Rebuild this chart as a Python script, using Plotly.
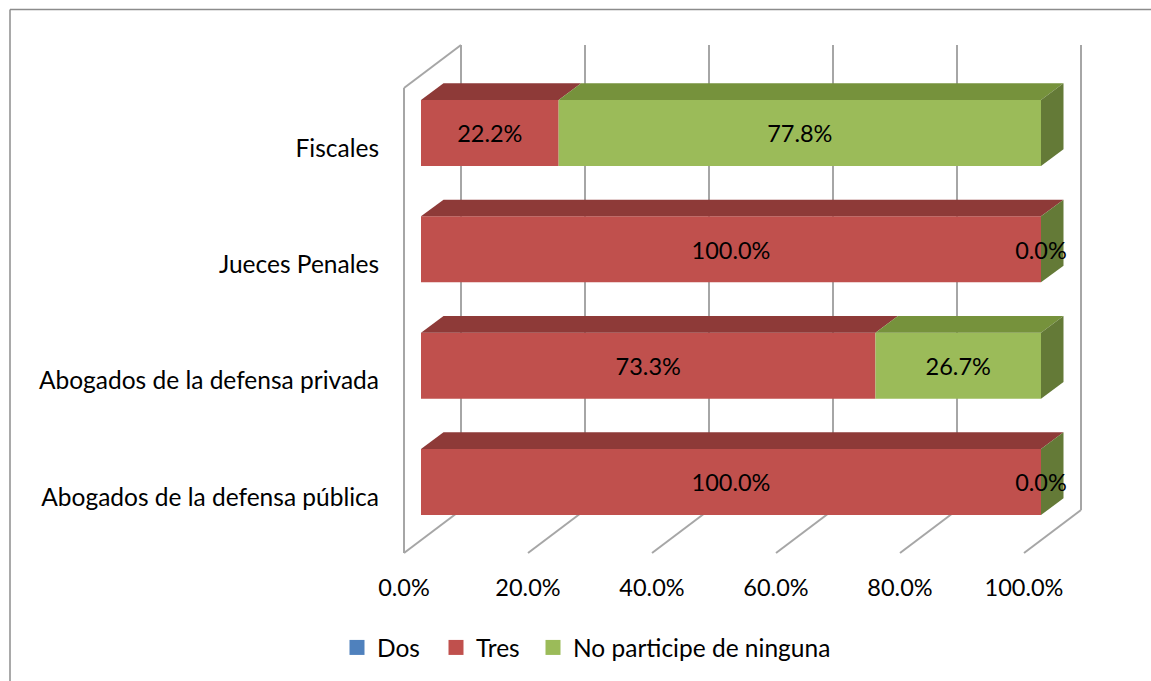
import plotly.graph_objects as go

categories = ['Abogados de la defensa pública', 'Abogados de la defensa privada', 'Jueces Penales', 'Fiscales']
series_names = ['Dos', 'Tres', 'No participe de ninguna']
dos = [0, 0, 0, 0]
tres = [100.0, 73.3, 100.0, 22.2]
ninguna = [0.0, 26.7, 0.0, 77.8]
x_ticks = [0, 20, 40, 60, 80, 100]
x_labels = ['0.0%', '20.0%', '40.0%', '60.0%', '80.0%', '100.0%']

W, H = 1151, 681
PX_X = 6.2  # pixels per percent
PX_Y = 116.33  # pixels per category row
FONT = 'Lato'
FONT_SIZE = 23.5
CAT_FONT_SIZE = 24.5

# oblique depth of the walls and of the bars, in axis units
wall_dx = 57 / PX_X
wall_dy = 43 / PX_Y
floor = -56 / PX_Y
ceiling = floor + 465 / PX_Y
bar_start = 17 / PX_X
bar_dx = 22.5 / PX_X
bar_dy = 16.7 / PX_Y
bar_lift = 15 / PX_Y
label_lift = 11.5 / PX_Y
bar_height = 66 / PX_Y

front = {'Dos': '#4F81BD', 'Tres': '#C0504D', 'No participe de ninguna': '#9BBB59'}
top = {'Dos': '#3B618F', 'Tres': '#8E3A38', 'No participe de ninguna': '#76923C'}
side_color = '#647A37'
wall_color = '#A6A6A6'
border_color = '#8C8C8C'

fig = go.Figure()
rows = list(range(len(categories)))
values = {'Dos': dos, 'Tres': tres, 'No participe de ninguna': ninguna}


def face(xs, ys, color):
    fig.add_trace(go.Scatter(x=xs + xs[:1], y=ys + ys[:1], mode='lines', fill='toself', fillcolor=color,
                             line=dict(width=0, color=color), hoverinfo='skip', showlegend=False))


starts = [0] * len(rows)
for name in series_names:
    vals = values[name]
    fig.add_trace(go.Bar(y=[r + bar_lift for r in rows], x=vals, base=[s + bar_start for s in starts],
                         orientation='h', width=bar_height, marker=dict(color=front[name], line_width=0),
                         hoverinfo='skip', showlegend=False))
    for r, v, s in zip(rows, vals, starts):
        if v == 0:
            continue
        x0 = s + bar_start
        y1 = r + bar_lift + bar_height / 2
        face([x0, x0 + v, x0 + v + bar_dx, x0 + bar_dx], [y1, y1, y1 + bar_dy, y1 + bar_dy], top[name])
    starts = [s + v for s, v in zip(starts, vals)]

# end cap of the stack
for r, s in zip(rows, starts):
    x0 = s + bar_start
    y0 = r + bar_lift - bar_height / 2
    y1 = r + bar_lift + bar_height / 2
    face([x0, x0 + bar_dx, x0 + bar_dx, x0], [y0, y0 + bar_dy, y1 + bar_dy, y1], side_color)

# data labels
starts = [0] * len(rows)
for name in series_names[1:]:
    vals = values[name]
    fig.add_trace(go.Scatter(x=[s + v / 2 + bar_start for s, v in zip(starts, vals)],
                             y=[r + label_lift for r in rows],
                             mode='text', text=['%.1f%%' % v for v in vals], textposition='middle center',
                             textfont=dict(family=FONT, size=FONT_SIZE, color='#000000'),
                             hoverinfo='skip', showlegend=False))
    starts = [s + v for s, v in zip(starts, vals)]

# legend keys, one legend each so the spacing can follow the picture
legend_ids = ['legend', 'legend2', 'legend3']
legend_left = [337, 436, 533]
for name, legend_id in zip(series_names, legend_ids):
    fig.add_trace(go.Scatter(x=[None], y=[None], mode='markers', name=name, legend=legend_id,
                             marker=dict(symbol='square', size=15, color=front[name])))

shapes = []


def wall_line(x0, y0, x1, y1):
    shapes.append(dict(type='line', x0=x0, y0=y0, x1=x1, y1=y1, layer='below',
                       line=dict(color=wall_color, width=2)))


for t in x_ticks:
    wall_line(t, floor, t + wall_dx, floor + wall_dy)
    wall_line(t + wall_dx, floor + wall_dy, t + wall_dx, ceiling + wall_dy)
wall_line(0, floor, 0, ceiling)
wall_line(0, ceiling, wall_dx, ceiling + wall_dy)

# chart frame, only the left and top edges are in the picture
shapes.append(dict(type='line', xref='paper', yref='paper', x0=10 / W, y0=0, x1=10 / W, y1=1 - 9.5 / H,
                   line=dict(color=border_color, width=1.5)))
shapes.append(dict(type='line', xref='paper', yref='paper', x0=10 / W, y0=1 - 9.5 / H, x1=1, y1=1 - 9.5 / H,
                   line=dict(color=border_color, width=1.5)))

fig.update_layout(
    width=W,
    height=H,
    margin=dict(l=0, r=0, t=0, b=0),
    barmode='overlay',
    plot_bgcolor='white',
    paper_bgcolor='white',
    font=dict(family=FONT, size=FONT_SIZE, color='#000000'),
    shapes=shapes,
    xaxis=dict(range=[-404 / PX_X, (W - 404) / PX_X], domain=[0, 1], anchor='free', position=1 - 571 / H,
               tickvals=x_ticks, ticktext=x_labels, ticks='', showgrid=False, zeroline=False, showline=False),
    yaxis=dict(range=[(497 - H) / PX_Y, 497 / PX_Y], domain=[0, 1], anchor='free', position=379 / W,
               tickvals=rows, ticktext=categories, tickfont=dict(size=CAT_FONT_SIZE), ticks='',
               showgrid=False, zeroline=False, showline=False),
)

for legend_id, left in zip(legend_ids, legend_left):
    fig.update_layout({legend_id: dict(orientation='h', x=left / W, y=1 - 625 / H, xanchor='left', yanchor='top',
                                       bgcolor='rgba(0,0,0,0)', font=dict(size=CAT_FONT_SIZE))})

fig.write_html("out.html", config=dict(displayModeBar=False), post_script="document.body.style.margin='0';")
